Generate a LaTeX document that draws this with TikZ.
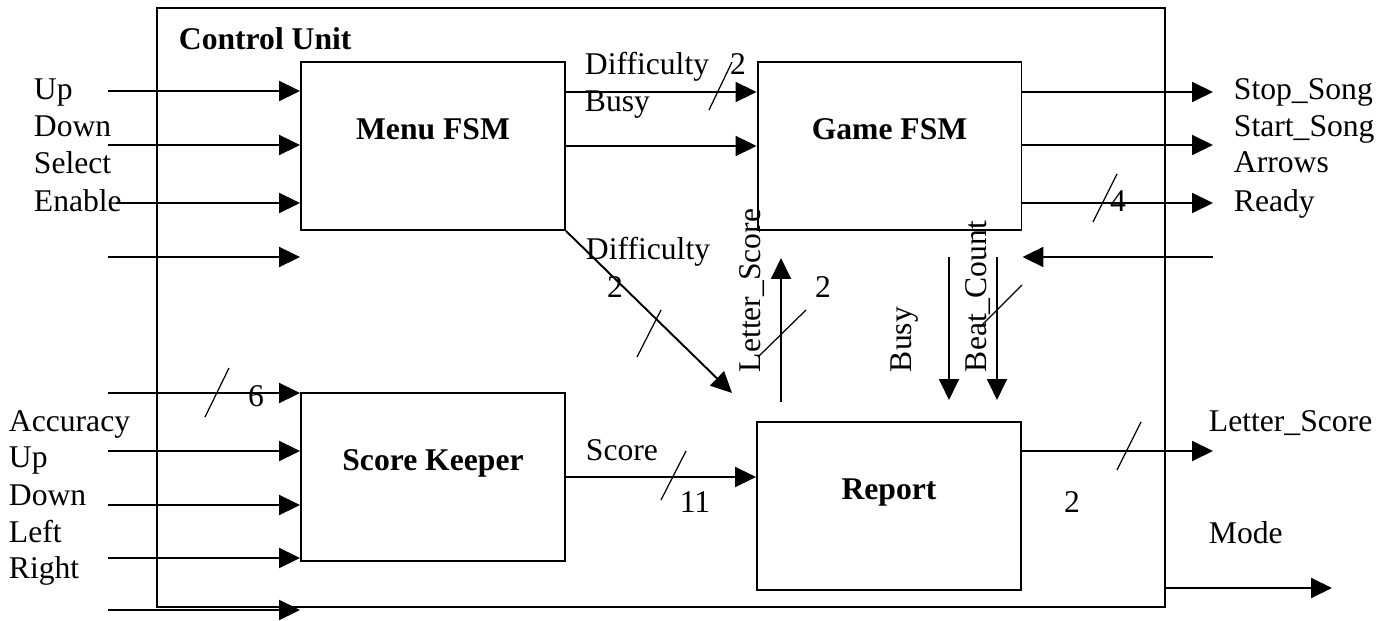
\documentclass[tikz,border=0pt]{standalone}
\usepackage{fontspec}
\setmainfont{Liberation Serif}
\usetikzlibrary{positioning, arrows.meta, calc}

\begin{document}
\begin{tikzpicture}[ x = 0.02cm, y = -0.02cm
                   , font = \fontsize{18}{20}\selectfont
                   , line width = 1.1pt
                   , >={Triangle[width=0.4cm, length=0.42cm]}
                   , frame/.style = { draw, inner sep = 0pt
                                    , minimum width = 20.16cm
                                    , minimum height = 11.98cm }
                   , block/.style = { draw, inner sep = 0pt
                                    , minimum width = 5.28cm
                                    , minimum height = 3.36cm
                                    , text height = 0.4cm, text depth = 0.66cm
                                    , font = \fontsize{18}{20}\selectfont\bfseries }
                   , sig/.style = { inner sep = 0pt, anchor = base west }
                   , num/.style = { inner sep = 0pt, anchor = base }
                   , bus/.style = { line width = 0.7pt }
                   ]

  \useasboundingbox (0,0) rectangle (1390,621);

  \node (cu) [frame] at (661,307.5) {};
  \node (cutitle) [sig, font = \fontsize{18}{20}\selectfont\bfseries] at (178,50) {Control Unit};

  \node (menu)   [block] at (433,146)   {Menu FSM};
  \node (game)   [block] at (889.5,146) {Game FSM};
  \node (keep)   [block] at (433,477)   {Score Keeper};
  \node (report) [block] at (889,506)   {Report};

  % inputs of the menu
  \coordinate (inUp)     at (108,91);
  \coordinate (inDown)   at (108,145);
  \coordinate (inEnable) at (116,203);
  \coordinate (inMenu)   at (108,257);
  \draw[->] (inUp) -- (inUp -| menu.west);
  \draw[->] (inDown) -- (inDown -| menu.west);
  \draw[->] (inEnable) -- (inEnable -| menu.west);
  \draw[->] (inMenu) -- (inMenu -| menu.west);

  \node (lUp)     [sig] at (33,100) {Up};
  \node (lDown)   [sig] at (33,137) {Down};
  \node (lSelect) [sig] at (33,174) {Select};
  \node (lEnable) [sig] at (33,212) {Enable};

  % inputs of the score keeper
  \coordinate (inAcc)   at (108,393);
  \coordinate (inKUp)   at (108,451);
  \coordinate (inKDown) at (108,505);
  \coordinate (inRight) at (108,558);
  \coordinate (inLow)   at (108,610);
  \draw[->] (inAcc) -- (inAcc -| keep.west);
  \draw[->] (inKUp) -- (inKUp -| keep.west);
  \draw[->] (inKDown) -- (inKDown -| keep.west);
  \draw[->] (inRight) -- (inRight -| keep.west);
  \draw[->] (inLow) -- (inLow -| keep.west);
  \draw[bus] (205,417) -- (229,368);
  \node (nAcc) [num] at (256,407) {6};

  \node (lAcc)    [sig] at (8,432) {Accuracy};
  \node (lKUp)    [sig] at (8,468) {Up};
  \node (lKDown)  [sig] at (8,505) {Down};
  \node (lLeft)   [sig] at (8,542) {Left};
  \node (lRight)  [sig] at (8,578) {Right};

  % menu to game
  \draw[->] ([yshift=1.08cm]menu.east) -- ([yshift=1.08cm]game.west);
  \draw[->] (menu.east) -- (game.west);
  \draw[bus] (709,110) -- (732,62);
  \node (lDiff) [sig] at (584,75)  {Difficulty};
  \node (nDiff) [num] at (738,75)  {2};
  \node (lBusy) [sig] at (584,112) {Busy};

  % outputs of the game
  \coordinate (outStop)  at (1213,92);
  \coordinate (outStart) at (1213,145);
  \coordinate (outReady) at (1213,203);
  \coordinate (inGame)   at (1213,257);
  \draw[->] (outStop -| game.east) -- (outStop);
  \draw[->] (outStart -| game.east) -- (outStart);
  \draw[->] (outReady -| game.east) -- (outReady);
  \draw[->] (inGame) -- (inGame -| game.east);
  \draw[bus] (1093,222) -- (1117,174);
  \node (nArrows) [num] at (1118,212) {4};

  \node (lStop)   [sig] at (1233,100) {Stop\_Song};
  \node (lStart)  [sig] at (1233,137) {Start\_Song};
  \node (lArrows) [sig] at (1233,173) {Arrows};
  \node (lReady)  [sig] at (1233,212) {Ready};

  % menu to report
  \coordinate (diffEnd) at (732,393);
  \draw[->] (menu.south east) -- (diffEnd);
  \draw[bus] (637,357) -- (661,310);
  \node (lDiffR) [sig] at (585,260) {Difficulty};
  \node (nDiffR) [num] at (615,298) {2};

  % report and game
  \coordinate (lsBot) at (781,402);
  \coordinate (lsTop) at (781,258);
  \draw[->] (lsBot) -- (lsTop);
  \draw[bus] (758,357) -- (806,310);
  \node (lLs) [sig, rotate = 90] at (760,373) {Letter\_Score};
  \node (nLs) [num] at (823,298) {2};

  \coordinate (busyTop) at (949,257);
  \coordinate (busyBot) at (949,400);
  \draw[->] (busyTop) -- (busyBot);
  \node (lBusyR) [sig, rotate = 90] at (911,373) {Busy};

  \coordinate (beatTop) at (997,257);
  \coordinate (beatBot) at (997,400);
  \draw[->] (beatTop) -- (beatBot);
  \draw[bus] (980,327) -- (1022,285);
  \node (lBeat) [sig, rotate = 90] at (986,373) {Beat\_Count};

  % score keeper to report
  \draw[->] (keep.east) -- (keep.east -| report.west);
  \draw[bus] (661,500) -- (686,451);
  \node (lScore) [sig] at (585,460) {Score};
  \node (nScore) [num] at (695,513) {11};

  % outputs of the report
  \coordinate (outLs)   at (1213,451);
  \coordinate (outMode) at (1332,588);
  \draw[->] (outLs -| report.east) -- (outLs);
  \draw[bus] (1117,470) -- (1141,422);
  \node (nOutLs) [num] at (1072,513) {2};
  \draw[->] (outMode -| cu.east) -- (outMode);

  \node (lOutLs) [sig] at (1208,432) {Letter\_Score};
  \node (lMode)  [sig] at (1208,543) {Mode};

\end{tikzpicture}
\end{document}
